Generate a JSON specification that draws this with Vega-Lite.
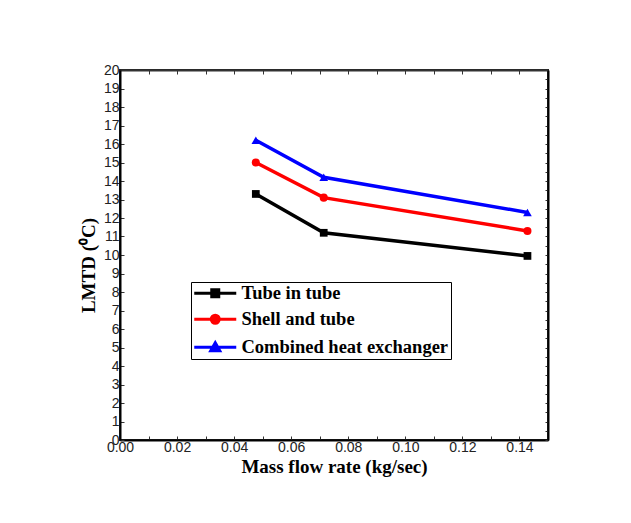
{
  "$schema": "https://vega.github.io/schema/vega-lite/v6.json",
  "width": 428,
  "height": 370,
  "autosize": "none",
  "padding": {"left": 120, "top": 70, "right": 83, "bottom": 83},
  "background": "white",
  "config": {
    "view": {"stroke": "#222", "strokeWidth": 2},
    "axis": {
      "domainColor": "black",
      "domainWidth": 2,
      "tickColor": "#333",
      "tickSize": -4,
      "tickWidth": 1,
      "grid": false,
      "labelFont": "Liberation Sans",
      "labelFontSize": 14,
      "labelColor": "#222",
      "titleFont": "Liberation Serif",
      "titleFontSize": 19,
      "titleFontWeight": "bold",
      "titleColor": "black"
    }
  },
  "data": {
    "values": [
      {"series": "Tube in tube", "flow": 0.0476, "lmtd": 13.3},
      {"series": "Tube in tube", "flow": 0.0714, "lmtd": 11.2},
      {"series": "Tube in tube", "flow": 0.1428, "lmtd": 9.95},
      {"series": "Shell and tube", "flow": 0.0476, "lmtd": 15.0},
      {"series": "Shell and tube", "flow": 0.0714, "lmtd": 13.1},
      {"series": "Shell and tube", "flow": 0.1428, "lmtd": 11.3},
      {"series": "Combined heat exchanger", "flow": 0.0476, "lmtd": 16.2},
      {"series": "Combined heat exchanger", "flow": 0.0714, "lmtd": 14.2},
      {"series": "Combined heat exchanger", "flow": 0.1428, "lmtd": 12.3}
    ]
  },
  "layer": [
    {
      "mark": {"type": "line", "strokeWidth": 3.5},
      "encoding": {
        "x": {
          "field": "flow", "type": "quantitative",
          "scale": {"domain": [0, 0.15], "nice": false, "zero": false},
          "axis": {
            "orient": "bottom",
            "title": "Mass flow rate (kg/sec)",
            "values": [0, 0.01, 0.02, 0.03, 0.04, 0.05, 0.06, 0.07, 0.08, 0.09, 0.1, 0.11, 0.12, 0.13, 0.14, 0.15],
            "labelExpr": "(round(datum.value*100) % 2 == 0 && datum.value < 0.145) ? format(datum.value, '.2f') : ''",
            "labelOverlap": false,
            "labelFlush": false,
            "labelPadding": 4,
            "titleY": 17,
            "titleBaseline": "top"
          }
        },
        "y": {
          "field": "lmtd", "type": "quantitative",
          "scale": {"domain": [0, 20], "nice": false},
          "axis": {
            "orient": "left",
            "title": "LMTD (⁰C)",
            "values": [0, 1, 2, 3, 4, 5, 6, 7, 8, 9, 10, 11, 12, 13, 14, 15, 16, 17, 18, 19, 20],
            "format": "d",
            "labelOverlap": false,
            "labelFlush": false,
            "labelPadding": 5,
            "titleX": -22,
            "titleY": 195
          }
        },
        "color": {
          "field": "series", "type": "nominal",
          "scale": {
            "domain": ["Tube in tube", "Shell and tube", "Combined heat exchanger"],
            "range": ["#000000", "#ff0000", "#0000ff"]
          },
          "legend": {
            "title": null,
            "orient": "none",
            "legendX": 71,
            "legendY": 212,
            "padding": 2,
            "strokeColor": "black",
            "fillColor": "white",
            "cornerRadius": 0,
            "symbolSize": 100,
            "symbolStrokeWidth": 3,
            "labelOffset": 30,
            "rowPadding": 6,
            "labelFont": "Liberation Serif",
            "labelFontSize": 18.5,
            "labelFontWeight": "bold",
            "labelColor": "black",
            "labelLimit": 400,
            "encode": {
              "symbols": {
                "update": {
                  "shape": {"signal": "datum.value === 'Tube in tube' ? 'M-1.6,0L6.8,0M1.9,-0.7L3.3,-0.7L3.3,0.7L1.9,0.7Z' : datum.value === 'Shell and tube' ? 'M-1.6,0L6.8,0M1.8,0A0.8,0.8 0 1,0 3.4,0A0.8,0.8 0 1,0 1.8,0Z' : 'M-1.6,0L6.8,0M2.6,-0.9L3.5,0.7L1.7,0.7Z'"},
                  "fill": {"signal": "datum.value === 'Tube in tube' ? '#000000' : datum.value === 'Shell and tube' ? '#ff0000' : '#0000ff'"},
                  "stroke": {"signal": "datum.value === 'Tube in tube' ? '#000000' : datum.value === 'Shell and tube' ? '#ff0000' : '#0000ff'"},
                  "strokeWidth": {"value": 3},
                  "opacity": {"value": 1},
                  "fillOpacity": {"value": 1}
                }
              }
            }
          }
        }
      }
    },
    {
      "transform": [{"filter": "datum.series === 'Tube in tube'"}],
      "mark": {"type": "point", "filled": true, "opacity": 1, "shape": "square", "color": "#000000", "size": 60},
      "encoding": {
        "x": {
          "field": "flow", "type": "quantitative",
          "axis": {
            "orient": "top",
            "title": null,
            "labels": false,
            "values": [0, 0.01, 0.02, 0.03, 0.04, 0.05, 0.06, 0.07, 0.08, 0.09, 0.1, 0.11, 0.12, 0.13, 0.14, 0.15],
            "domainColor": "#333"
          }
        },
        "y": {
          "field": "lmtd", "type": "quantitative",
          "axis": {
            "orient": "right",
            "title": null,
            "labels": false,
            "values": [0, 0.5, 1, 1.5, 2, 2.5, 3, 3.5, 4, 4.5, 5, 5.5, 6, 6.5, 7, 7.5, 8, 8.5, 9, 9.5, 10, 10.5, 11, 11.5, 12, 12.5, 13, 13.5, 14, 14.5, 15, 15.5, 16, 16.5, 17, 17.5, 18, 18.5, 19, 19.5, 20],
            "tickSize": -3
          }
        }
      }
    },
    {
      "transform": [{"filter": "datum.series === 'Shell and tube'"}],
      "mark": {"type": "point", "filled": true, "opacity": 1, "shape": "circle", "color": "#ff0000", "size": 65},
      "encoding": {
        "x": {"field": "flow", "type": "quantitative", "axis": null},
        "y": {"field": "lmtd", "type": "quantitative", "axis": null}
      }
    },
    {
      "transform": [{"filter": "datum.series === 'Combined heat exchanger'"}],
      "mark": {"type": "point", "filled": true, "opacity": 1, "shape": "triangle-up", "color": "#0000ff", "size": 75},
      "encoding": {
        "x": {"field": "flow", "type": "quantitative", "axis": null},
        "y": {"field": "lmtd", "type": "quantitative", "axis": null}
      }
    }
  ],
  "resolve": {"axis": {"x": "independent", "y": "independent"}}
}
